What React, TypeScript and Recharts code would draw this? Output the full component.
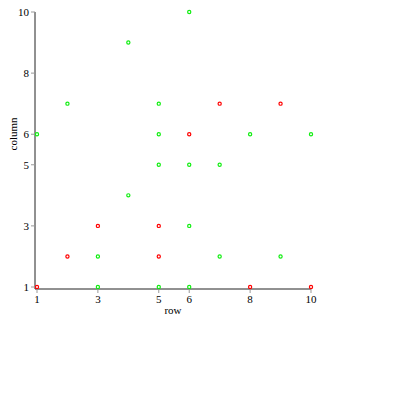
import { ScatterChart, Scatter, XAxis, YAxis } from "recharts";

const TICKS = [1, 3, 5, 6, 8, 10];

const GREEN_ROW = [1, 2, 3, 3, 4, 4, 5, 5, 5, 5, 6, 6, 6, 6, 7, 7, 8, 9, 10];
const GREEN_COL = [6, 7, 2, 1, 9, 4, 7, 6, 5, 1, 10, 5, 3, 1, 5, 2, 6, 2, 6];

const RED_ROW = [1, 2, 3, 5, 5, 6, 7, 8, 9, 10];
const RED_COL = [1, 2, 3, 3, 2, 6, 7, 1, 7, 1];

const green = GREEN_ROW.map((row, i) => ({ row, col: GREEN_COL[i] }));
const red = RED_ROW.map((row, i) => ({ row, col: RED_COL[i] }));

const FONT = "'Liberation Serif', 'DejaVu Serif', serif";

function Dot(props: { cx?: number; cy?: number; color: string }) {
  const { cx = 0, cy = 0, color } = props;
  return <circle cx={cx} cy={cy} r={1.6} fill="none" stroke={color} strokeWidth={1.2} />;
}

export default function App() {
  return (
    <div style={{ position: "absolute", left: 0, top: 0, width: 395, height: 395, background: "#fff" }}>
      <ScatterChart width={395} height={395} margin={{ top: 12, right: 84, bottom: 76, left: 0 }}>
        <XAxis
          type="number"
          dataKey="row"
          domain={[1, 10]}
          ticks={TICKS}
          padding={{ left: 2, right: 0 }}
          height={30}
          stroke="#222"
          tickLine={{ stroke: "#999" }}
          tickSize={4}
          tick={{ fill: "#000", fontSize: 11, fontFamily: FONT }}
          label={{ value: "row", position: "insideBottom", offset: 5, fill: "#000", fontSize: 11, fontFamily: FONT }}
        />
        <YAxis
          type="number"
          dataKey="col"
          domain={[1, 10]}
          ticks={TICKS}
          padding={{ top: 0, bottom: 2 }}
          width={35}
          stroke="#222"
          tickLine={{ stroke: "#999" }}
          tickSize={4}
          tick={{ fill: "#000", fontSize: 11, fontFamily: FONT }}
          label={{ value: "column", angle: -90, position: "insideLeft", offset: 13, fill: "#000", fontSize: 11, fontFamily: FONT }}
        />
        <Scatter data={red} isAnimationActive={false} shape={(p: any) => <Dot {...p} color="#ff0000" />} />
        <Scatter data={green} isAnimationActive={false} shape={(p: any) => <Dot {...p} color="#11ee11" />} />
      </ScatterChart>
    </div>
  );
}
